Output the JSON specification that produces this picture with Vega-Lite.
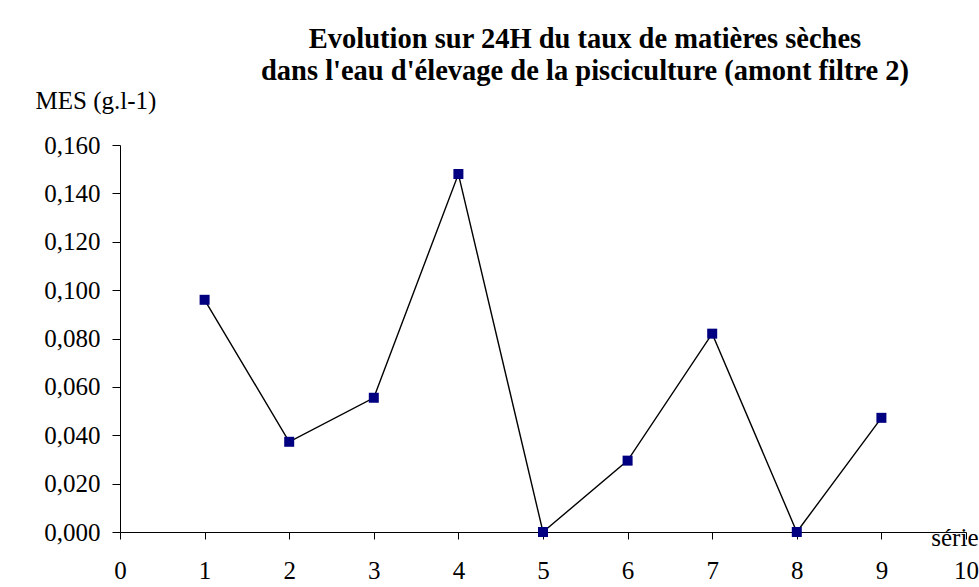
{
  "$schema": "https://vega.github.io/schema/vega-lite/v6.json",
  "width": 846,
  "height": 387,
  "autosize": {"type": "none"},
  "padding": {"left": 120, "top": 145, "right": 13, "bottom": 55},
  "background": "white",
  "config": {
    "view": {"stroke": null},
    "font": "Liberation Serif",
    "title": {"font": "'Liberation Serif', 'Times New Roman', serif"}
  },
  "title": {
    "text": ["Evolution sur 24H du taux de matières sèches", "dans l'eau d'élevage de la pisciculture (amont filtre 2)"],
    "font": "'Liberation Serif', 'Times New Roman', serif",
    "fontSize": 28.5,
    "fontWeight": "bold",
    "color": "black",
    "anchor": "middle",
    "baseline": "alphabetic",
    "lineHeight": 32,
    "dx": 42,
    "offset": -20
  },
  "data": {
    "values": [
      {"serie": 1, "mes": 0.096},
      {"serie": 2, "mes": 0.0373},
      {"serie": 3, "mes": 0.0555},
      {"serie": 4, "mes": 0.148},
      {"serie": 5, "mes": 0.0},
      {"serie": 6, "mes": 0.0295},
      {"serie": 7, "mes": 0.082},
      {"serie": 8, "mes": 0.0},
      {"serie": 9, "mes": 0.0472}
    ]
  },
  "encoding": {
    "x": {
      "field": "serie",
      "type": "quantitative",
      "scale": {"domain": [0, 10], "nice": false, "zero": false},
      "axis": {
        "values": [0, 1, 2, 3, 4, 5, 6, 7, 8, 9, 10],
        "grid": false,
        "domainColor": "black",
        "tickColor": "black",
        "tickSize": 7,
        "labelFont": "Liberation Serif",
        "labelFontSize": 25,
        "labelColor": "black",
        "labelBaseline": "alphabetic",
        "labelPadding": 39,
        "labelFlush": false,
        "labelOverlap": false,
        "title": "série",
        "titleFont": "Liberation Serif",
        "titleFontSize": 25,
        "titleFontWeight": "normal",
        "titleColor": "black",
        "titleAlign": "right",
        "titleAnchor": null,
        "titleBaseline": "alphabetic",
        "titleX": 858,
        "titleY": 13
      }
    },
    "y": {
      "field": "mes",
      "type": "quantitative",
      "scale": {"domain": [0, 0.16], "nice": false},
      "axis": {
        "values": [0, 0.02, 0.04, 0.06, 0.08, 0.1, 0.12, 0.14, 0.16],
        "labelExpr": "replace(format(datum.value, '.3f'), '.', ',')",
        "grid": false,
        "domainColor": "black",
        "tickColor": "black",
        "tickSize": 8,
        "labelPadding": 12,
        "labelFont": "Liberation Serif",
        "labelFontSize": 25,
        "labelColor": "black",
        "labelOverlap": false,
        "title": "MES (g.l-1)",
        "titleFont": "Liberation Serif",
        "titleFontSize": 25,
        "titleFontWeight": "normal",
        "titleColor": "black",
        "titleAngle": 0,
        "titleAlign": "left",
        "titleAnchor": null,
        "titleBaseline": "alphabetic",
        "titleX": -85,
        "titleY": -37
      }
    }
  },
  "layer": [
    {"mark": {"type": "line", "color": "black", "strokeWidth": 1.4}},
    {"mark": {"type": "point", "shape": "square", "filled": true, "size": 100, "color": "#000080", "opacity": 1, "strokeWidth": 0}}
  ]
}
